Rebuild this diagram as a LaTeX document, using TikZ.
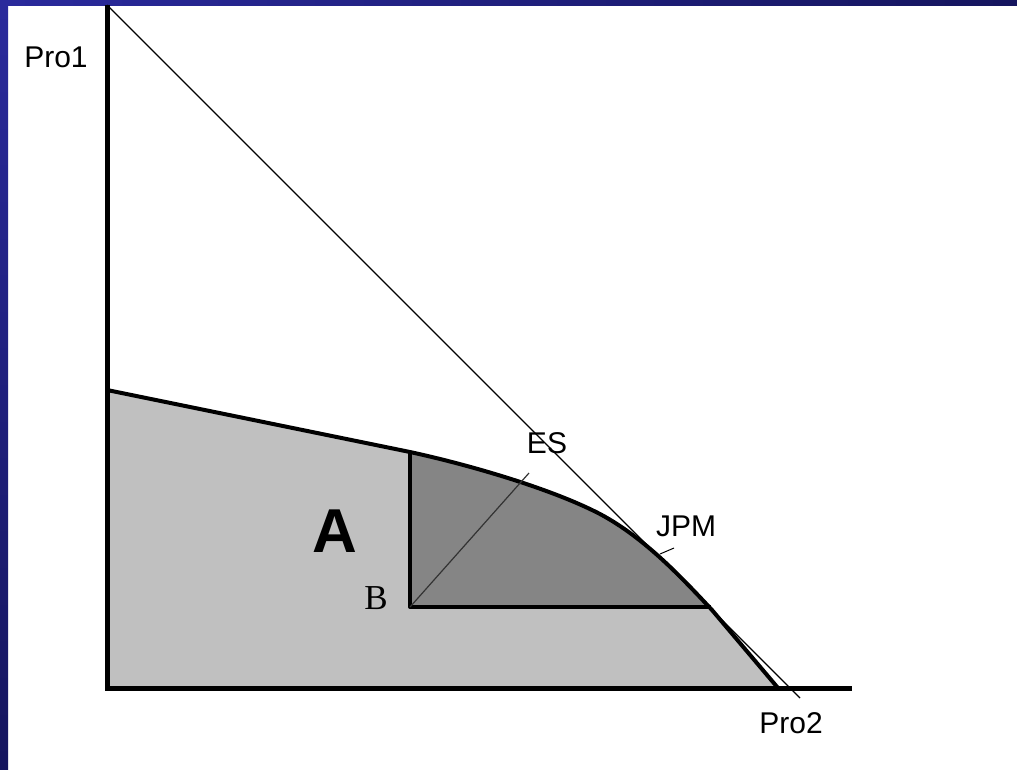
\documentclass[tikz,border=0pt]{standalone}
\usepackage{fontspec}
\setmainfont{Liberation Sans}
\newfontfamily\serifB{Liberation Serif}
\definecolor{lightfill}{HTML}{C0C0C0}
\definecolor{darkfill}{HTML}{858585}
\definecolor{bluetop}{HTML}{2A2A9C}
\definecolor{bluebot}{HTML}{15155E}
\tikzset{
  axis/.style={line width=5pt},
  frontier/.style={line width=4pt, line join=round},
  thinline/.style={line width=1.2pt},
  lbl/.style={inner sep=0pt, font=\fontsize{30}{36}\selectfont},
}
\begin{document}
\begin{tikzpicture}[x=1pt,y=-1pt]
\useasboundingbox (0,0) rectangle (1017,769);
\fill[white] (0,0) rectangle (1017,769);
% blue frame
\shade[top color=bluetop, bottom color=bluebot] (0,0) rectangle (8,769);
\shade[left color=bluetop, right color=bluebot] (0,0) rectangle (1017,5);
% frontier path
\def\frontierpath{(107,390) -- (410,452) .. controls (470,465) and (552,489) .. (600,514) .. controls (645,538) and (682,578) .. (712,610) -- (778,688)}
\fill[lightfill] (107,688) -- \frontierpath -- cycle;
\begin{scope}
  \clip (107,688) -- \frontierpath -- cycle;
  \fill[darkfill] (410,440) rectangle (800,607);
\end{scope}
% coordinates
\coordinate (B) at (410,607);
\coordinate (Btop) at (410,452);
\coordinate (Bright) at (711,607);
\coordinate (ES) at (529,473);
\coordinate (O) at (107,688);
\coordinate (Ytop) at (107,5);
\coordinate (Xend) at (852,688);
\coordinate (Lstart) at (107,5);
\coordinate (Lend) at (800,698);
\coordinate (Jt1) at (660,554);
\coordinate (Jt2) at (674,548);
% lines
\draw[frontier] \frontierpath;
\draw[frontier] (Btop) -- (B) -- (Bright);
\draw[thinline, black!80] (B) -- (ES);
\draw[thinline] (Lstart) -- (Lend);
\draw[line width=1pt] (Jt1) -- (Jt2);
\draw[axis] (Ytop) -- (O) -- (Xend);
% labels
\node[lbl] (pro1) at (56,57) {Pro1};
\node[lbl] (pro2) at (791,723) {Pro2};
\node[lbl] (es) at (547,443) {ES};
\node[lbl] (jpm) at (686,526) {JPM};
\node[inner sep=0pt, font=\fontsize{62}{70}\selectfont\bfseries] (A) at (335,531) {A};
\node[inner sep=0pt, font=\serifB\fontsize{35}{40}\selectfont] (Blbl) at (376,598) {B};
\end{tikzpicture}
\end{document}
